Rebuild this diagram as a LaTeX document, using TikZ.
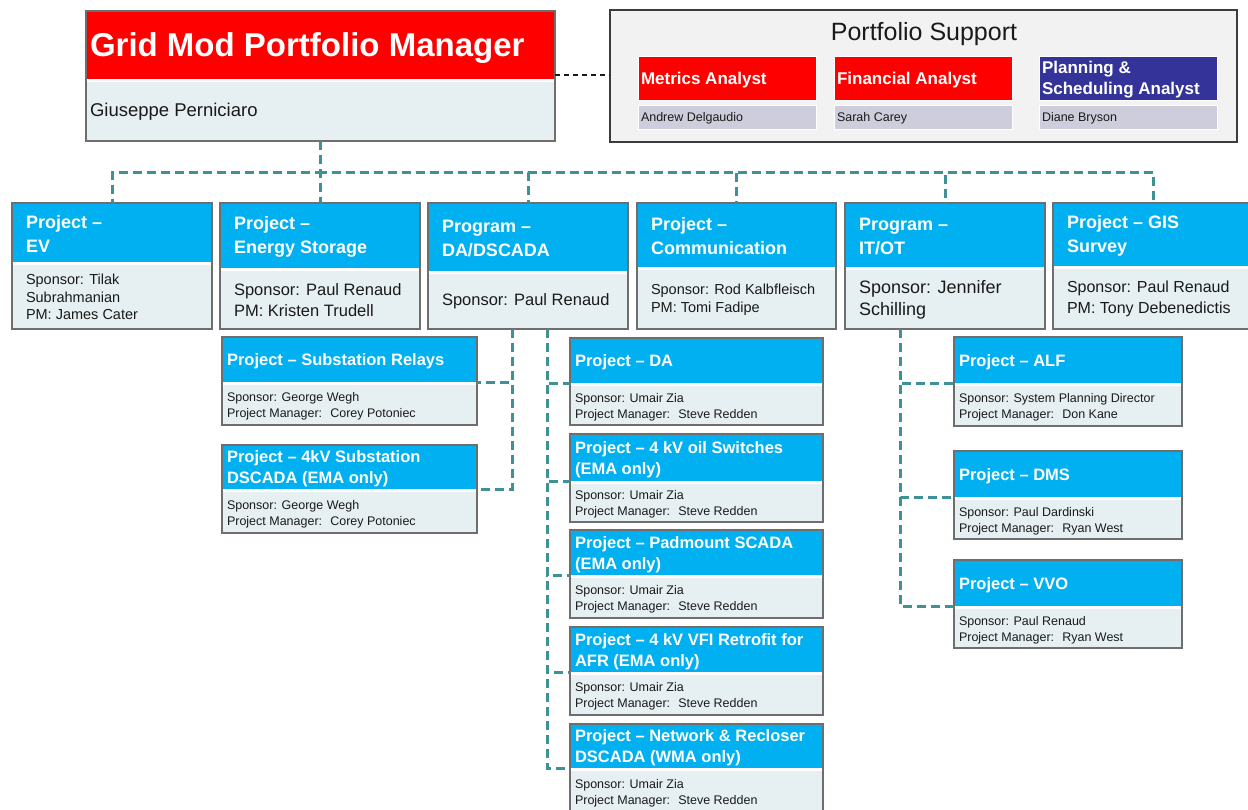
\documentclass[tikz,border=0pt]{standalone}
\usepackage{fontspec}
\setmainfont{Liberation Sans}
\begin{document}
\newcommand\fsz[2]{\fontsize{#1}{#2}\selectfont}
\definecolor{hdrred}{HTML}{FF0000}
\definecolor{hdrblue}{HTML}{00B0F0}
\definecolor{bodyfill}{HTML}{E6F0F2}
\definecolor{framegray}{HTML}{6E6E6E}
\definecolor{teal}{HTML}{3E9196}
\definecolor{navy}{HTML}{333399}
\definecolor{namefill}{HTML}{CDCDDB}
\definecolor{panelfill}{HTML}{F2F2F2}
\definecolor{ink}{HTML}{1A1A1A}
\tikzset{
  box/.style={inner sep=0pt, outer sep=0pt},
  hdrbox/.style={box, fill=hdrblue},
  bdybox/.style={box, fill=bodyfill},
  frame/.style={draw=framegray, line width=1.2pt},
  txt/.style={inner ysep=0pt, outer sep=0pt, align=left},
  top head/.style={txt, text=white, font=\bfseries\fsz{18}{24}, inner xsep=14pt, yshift=-1pt},
  top body/.style={txt, text=ink, inner xsep=14pt},
  sub head/.style={txt, text=white, font=\bfseries\fsz{16.5}{21}, inner xsep=5pt, yshift=-2pt},
  sub body/.style={txt, text=ink, font=\fsz{12.5}{16}, inner xsep=5pt, yshift=-1.5pt},
  conn/.style={draw=teal, line width=3pt, dash pattern=on 9pt off 5pt},
  linkdash/.style={draw=ink, line width=1.5pt, dash pattern=on 5pt off 4pt},
}
% #1 name, #2 x,y, #3 width, #4 header height, #5 body height,
% #6 kind (top/sub), #7 body font, #8 header text, #9 body text
\newcommand\orgbox[9]{%
  \node[hdrbox, minimum width=#3, minimum height=#4, anchor=north west] (#1H) at (#2) {};
  \node[bdybox, minimum width=#3, minimum height=#5, anchor=north west] (#1B) at ([yshift=-3pt]#1H.south west) {};
  \draw[frame] (#1H.north west) rectangle (#1B.south east);
  \node[#6 head, anchor=west] (#1Ht) at (#1H.west) {#8};
  \node[#6 body, #7, anchor=west] (#1Bt) at (#1B.west) {#9};
}
\begin{tikzpicture}[x=1pt, y=-1pt]
\useasboundingbox[fill=white] (0,0) rectangle (1248,809);

% ---- portfolio manager ----
\node[box, fill=hdrred, minimum width=469, minimum height=68, anchor=north west] (mgrH) at (86,11) {};
\node[box, fill=bodyfill, minimum width=469, minimum height=59, anchor=north west] (mgrB) at (86,82) {};
\draw[frame] (mgrH.north west) rectangle (mgrB.south east);
\node[txt, text=white, font=\bfseries\fsz{33}{38}, inner xsep=4pt, anchor=west, yshift=-3pt] (mgrHt) at (mgrH.west) {Grid Mod Portfolio Manager};
\node[txt, text=ink, font=\fsz{18.5}{22}, inner xsep=4pt, anchor=west] (mgrBt) at (mgrB.west) {Giuseppe Perniciaro};

% ---- portfolio support panel ----
\node[box, fill=panelfill, draw=ink!85, line width=1.5pt, minimum width=627, minimum height=132, anchor=north west] (ps) at (610,10) {};
\node[txt, text=ink, font=\fsz{25}{30}] (psT) at (924,34) {Portfolio Support};
\tikzset{
  anhead/.style={box, draw=white, line width=1pt, minimum width=178, minimum height=44, anchor=north west},
  anname/.style={box, draw=white, line width=1pt, fill=namefill, minimum width=178, minimum height=24, anchor=north west},
  antxt/.style={txt, text=white, font=\bfseries\fsz{17}{21}, inner xsep=3pt, anchor=west, yshift=-2pt},
  annametxt/.style={txt, text=ink, font=\fsz{12.5}{15}, inner xsep=3pt, anchor=west, yshift=-1pt},
}
\node[anhead, fill=hdrred] (metH) at (638,56) {};
\node[anname] (metB) at (638,105) {};
\node[antxt] (metHt) at (metH.west) {Metrics Analyst};
\node[annametxt] (metBt) at (metB.west) {Andrew Delgaudio};
\node[anhead, fill=hdrred] (finH) at (834,56) {};
\node[anname] (finB) at (834,105) {};
\node[antxt] (finHt) at (finH.west) {Financial Analyst};
\node[annametxt] (finBt) at (finB.west) {Sarah Carey};
\node[anhead, fill=navy] (plaH) at (1039,56) {};
\node[anname] (plaB) at (1039,105) {};
\node[antxt] (plaHt) at (plaH.west) {Planning \&\\Scheduling Analyst};
\node[annametxt] (plaBt) at (plaB.west) {Diane Bryson};

\draw[linkdash] ([yshift=4pt]mgrH.south east) -- ([yshift=4pt]mgrH.south east -| ps.west);

% ---- projects and programs ----
\orgbox{ev}{12,203}{200}{59}{64}{top}{font=\fsz{14.5}{17.5}}{Project --\\EV}{Sponsor: Tilak\\Subrahmanian\\PM: James Cater}
\orgbox{es}{220,203}{200}{65}{58}{top}{font=\fsz{16.5}{21}}{Project --\\Energy Storage}{Sponsor: Paul Renaud\\PM: Kristen Trudell}
\orgbox{da}{428,203}{200}{68}{55}{top}{font=\fsz{16.5}{21}}{Program --\\DA/DSCADA}{Sponsor: Paul Renaud}
\orgbox{com}{637,203}{199}{64}{59}{top}{font=\fsz{14.5}{18}}{Project --\\Communication}{Sponsor: Rod Kalbfleisch\\PM: Tomi Fadipe}
\orgbox{itot}{845,203}{200}{64}{59}{top}{font=\fsz{18}{22}}{Program --\\IT/OT}{Sponsor: Jennifer\\Schilling}
\orgbox{gis}{1053,203}{200}{63}{60}{top}{font=\fsz{16}{21}}{Project -- GIS\\Survey}{Sponsor: Paul Renaud\\PM: Tony Debenedictis}

% ---- DA/DSCADA sub-projects ----
\orgbox{rel}{222,337}{255}{45}{40}{sub}{}{Project -- Substation Relays}{Sponsor: George Wegh\\Project Manager:~ Corey Potoniec}
\orgbox{kv}{222,445}{255}{44}{41}{sub}{}{Project -- 4kV Substation\\DSCADA (EMA only)}{Sponsor: George Wegh\\Project Manager:~ Corey Potoniec}
\orgbox{sda}{570,338}{253}{45}{39}{sub}{}{Project -- DA}{Sponsor: Umair Zia\\Project Manager:~ Steve Redden}
\orgbox{oil}{570,434}{253}{47}{38}{sub}{}{Project -- 4 kV oil Switches\\(EMA only)}{Sponsor: Umair Zia\\Project Manager:~ Steve Redden}
\orgbox{pad}{570,530}{253}{45}{40}{sub}{}{Project -- Padmount SCADA\\(EMA only)}{Sponsor: Umair Zia\\Project Manager:~ Steve Redden}
\orgbox{vfi}{570,627}{253}{45}{40}{sub}{}{Project -- 4 kV VFI Retrofit for\\AFR (EMA only)}{Sponsor: Umair Zia\\Project Manager:~ Steve Redden}
\orgbox{net}{570,724}{253}{44}{42}{sub}{}{Project -- Network \& Recloser\\DSCADA (WMA only)}{Sponsor: Umair Zia\\Project Manager:~ Steve Redden}

% ---- IT/OT sub-projects ----
\orgbox{alf}{954,337}{228}{46}{40}{sub}{}{Project -- ALF}{Sponsor: System Planning Director\\Project Manager:~ Don Kane}
\orgbox{dms}{954,451}{228}{46}{39}{sub}{}{Project -- DMS}{Sponsor: Paul Dardinski\\Project Manager:~ Ryan West}
\orgbox{vvo}{954,560}{228}{46}{39}{sub}{}{Project -- VVO}{Sponsor: Paul Renaud\\Project Manager:~ Ryan West}

% ---- reporting lines ----
\foreach \n in {ev,es,da,com,itot,gis}
  \draw[conn] (mgrB.south) -- ++(0,31) -| (\n H.north);
\foreach \n in {rel,kv}
  \draw[conn] ([xshift=84pt]daB.south west) |- (\n H.south east);
\foreach \n in {sda,oil,pad,vfi,net}
  \draw[conn] ([xshift=119pt]daB.south west) |- (\n H.south west);
\foreach \n in {alf,dms,vvo}
  \draw[conn] ([xshift=55pt]itotB.south west) |- (\n H.south west);
\end{tikzpicture}
\end{document}
